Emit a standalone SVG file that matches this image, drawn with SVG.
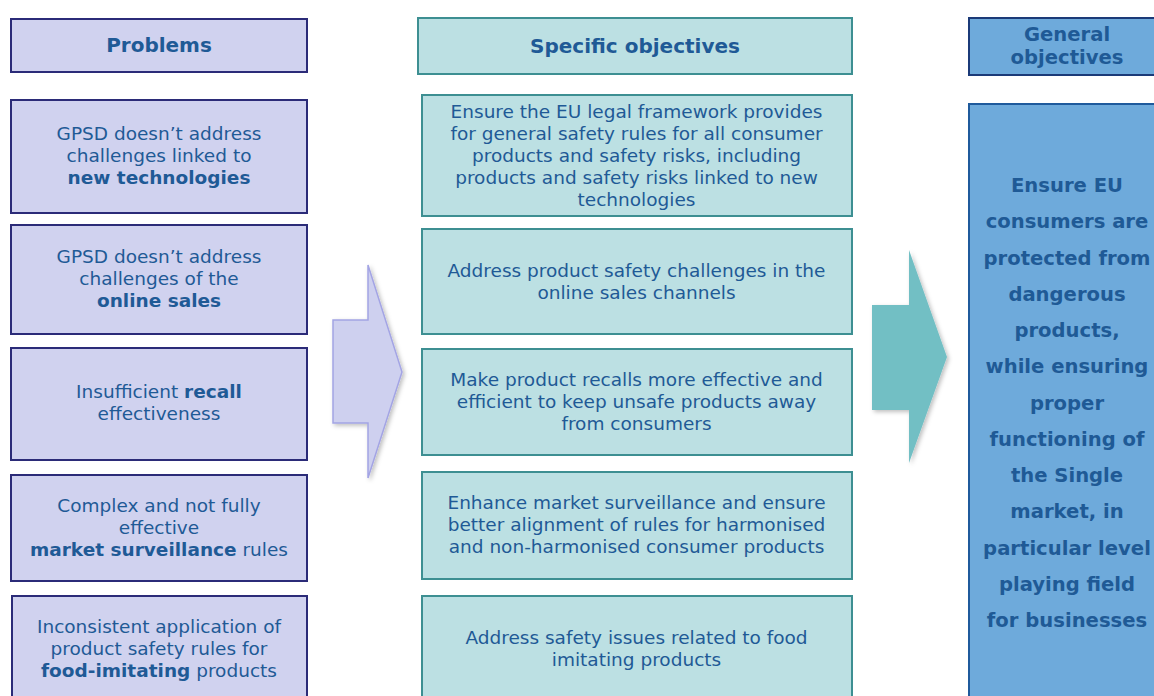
<svg xmlns="http://www.w3.org/2000/svg" width="1154" height="696" viewBox="0 0 1154 696">
<defs>
<filter id="sh" x="-20%" y="-20%" width="150%" height="150%">
<feDropShadow dx="2" dy="2" stdDeviation="2" flood-color="#000" flood-opacity="0.25"/>
</filter>
<style>
.prob{fill:#d0d2ef;stroke:#2b2b78;stroke-width:2}
.spec{fill:#bce0e3;stroke:#3d8f92;stroke-width:2}
.genh{fill:#6eaadb;stroke:#1b3a78;stroke-width:2}
.gen{fill:#6eaadb;stroke:#1f5a9c;stroke-width:2}
text{font-family:"DejaVu Sans",Verdana,sans-serif;fill:#1f5a96;text-anchor:middle}
.t{font-size:18.5px}
.h{font-size:20px;font-weight:bold}
.g{font-size:19.6px;font-weight:bold}
.b{font-weight:bold}
</style>
</defs>
<rect width="1154" height="696" fill="#fff"/>
<g id="connectors">
<path d="M333,320 H368 V265 L402,372 L368,478 V423 H333 Z" fill="#ced0ef" stroke="#a3a4e4" stroke-width="1.5" filter="url(#sh)"/>
<path d="M872,305 H909 V250 L947,357 L909,463 V410 H872 Z" fill="#72bfc4" filter="url(#sh)"/>
</g>
<g id="problems-header"><rect class="prob" x="11" y="19" width="296" height="53"/><text class="h" x="159" y="52">Problems</text></g>
<g id="problem-1"><rect class="prob" x="11" y="100" width="296" height="113"/>
<text class="t" x="159" y="140">GPSD doesn’t address</text>
<text class="t" x="159" y="162">challenges linked to</text>
<text class="t b" x="159" y="184">new technologies</text></g>
<g id="problem-2"><rect class="prob" x="11" y="225" width="296" height="109"/>
<text class="t" x="159" y="263">GPSD doesn’t address</text>
<text class="t" x="159" y="285">challenges of the</text>
<text class="t b" x="159" y="307">online sales</text></g>
<g id="problem-3"><rect class="prob" x="11" y="348" width="296" height="112"/>
<text class="t" x="159" y="398">Insufficient <tspan class="b">recall</tspan></text>
<text class="t" x="159" y="420">effectiveness</text></g>
<g id="problem-4"><rect class="prob" x="11" y="475" width="296" height="106"/>
<text class="t" x="159" y="512">Complex and not fully</text>
<text class="t" x="159" y="534">effective</text>
<text class="t" x="159" y="556"><tspan class="b">market surveillance</tspan> rules</text></g>
<g id="problem-5"><rect class="prob" x="12" y="596" width="295" height="120"/>
<text class="t" x="159" y="633">Inconsistent application of</text>
<text class="t" x="159" y="655">product safety rules for</text>
<text class="t" x="159" y="677"><tspan class="b">food-imitating</tspan> products</text></g>

<g id="specific-header"><rect class="spec" x="418" y="18" width="434" height="56"/><text class="h" x="635" y="53">Specific objectives</text></g>
<g id="objective-1"><rect class="spec" x="422" y="95" width="430" height="121"/>
<text class="t" x="636.5" y="118">Ensure the EU legal framework provides</text>
<text class="t" x="636.5" y="140">for general safety rules for all consumer</text>
<text class="t" x="636.5" y="162">products and safety risks, including</text>
<text class="t" x="636.5" y="184">products and safety risks linked to new</text>
<text class="t" x="636.5" y="206">technologies</text></g>
<g id="objective-2"><rect class="spec" x="422" y="229" width="430" height="105"/>
<text class="t" x="636.5" y="277">Address product safety challenges in the</text>
<text class="t" x="636.5" y="299">online sales channels</text></g>
<g id="objective-3"><rect class="spec" x="422" y="349" width="430" height="106"/>
<text class="t" x="636.5" y="386">Make product recalls more effective and</text>
<text class="t" x="636.5" y="408">efficient to keep unsafe products away</text>
<text class="t" x="636.5" y="430">from consumers</text></g>
<g id="objective-4"><rect class="spec" x="422" y="472" width="430" height="107"/>
<text class="t" x="636.5" y="509">Enhance market surveillance and ensure</text>
<text class="t" x="636.5" y="531">better alignment of rules for harmonised</text>
<text class="t" x="636.5" y="553">and non-harmonised consumer products</text></g>
<g id="objective-5"><rect class="spec" x="422" y="596" width="430" height="120"/>
<text class="t" x="636.5" y="644">Address safety issues related to food</text>
<text class="t" x="636.5" y="666">imitating products</text></g>

<g id="general-header"><rect class="genh" x="969" y="18" width="200" height="57"/>
<text class="g" x="1067" y="41">General</text>
<text class="g" x="1067" y="64">objectives</text></g>
<g id="general-objective"><rect class="gen" x="969" y="104" width="200" height="620"/>
<text class="g" x="1067" y="192">Ensure EU</text>
<text class="g" x="1067" y="228">consumers are</text>
<text class="g" x="1067" y="264.5">protected from</text>
<text class="g" x="1067" y="301">dangerous</text>
<text class="g" x="1067" y="337">products,</text>
<text class="g" x="1067" y="373">while ensuring</text>
<text class="g" x="1067" y="409.5">proper</text>
<text class="g" x="1067" y="446">functioning of</text>
<text class="g" x="1067" y="482">the Single</text>
<text class="g" x="1067" y="518">market, in</text>
<text class="g" x="1067" y="554.5">particular level</text>
<text class="g" x="1067" y="591">playing field</text>
<text class="g" x="1067" y="627">for businesses</text></g>
</svg>
